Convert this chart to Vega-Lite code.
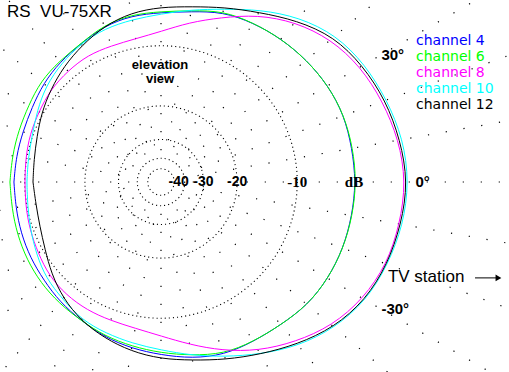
{
  "$schema": "https://vega.github.io/schema/vega-lite/v6.json",
  "width": 509,
  "height": 372,
  "autosize": {"type": "none"},
  "padding": 0,
  "background": "white",
  "config": {"view": {"stroke": null}, "axis": {"disable": true}, "legend": {"disable": true}},
  "datasets": {
    "pattern": [
      {"angle": -180, "channel 4": -8.69, "channel 6": -8.23, "channel 8": -10.03, "channel 10": -10.28, "channel 12": -11.07},
      {"angle": -170, "channel 4": -8.64, "channel 6": -8.18, "channel 8": -9.84, "channel 10": -10.09, "channel 12": -11.2},
      {"angle": -160, "channel 4": -8.46, "channel 6": -8.01, "channel 8": -9.58, "channel 10": -9.66, "channel 12": -10.94},
      {"angle": -150, "channel 4": -8.23, "channel 6": -7.79, "channel 8": -9.29, "channel 10": -9.05, "channel 12": -10.28},
      {"angle": -140, "channel 4": -8.01, "channel 6": -7.57, "channel 8": -8.81, "channel 10": -8.35, "channel 12": -9.17},
      {"angle": -130, "channel 4": -7.57, "channel 6": -7.4, "channel 8": -8.64, "channel 10": -8.01, "channel 12": -8.12},
      {"angle": -120, "channel 4": -7.24, "channel 6": -7.24, "channel 8": -8.58, "channel 10": -7.35, "channel 12": -7.24},
      {"angle": -110, "channel 4": -6.71, "channel 6": -6.82, "channel 8": -8.64, "channel 10": -7.13, "channel 12": -6.61},
      {"angle": -100, "channel 4": -6.3, "channel 6": -6.51, "channel 8": -8.52, "channel 10": -6.82, "channel 12": -6.0},
      {"angle": -90, "channel 4": -5.9, "channel 6": -6.1, "channel 8": -7.9, "channel 10": -6.4, "channel 12": -5.51},
      {"angle": -80, "channel 4": -5.31, "channel 6": -5.6, "channel 8": -6.71, "channel 10": -5.6, "channel 12": -5.12},
      {"angle": -70, "channel 4": -4.84, "channel 6": -4.94, "channel 8": -5.27, "channel 10": -4.66, "channel 12": -4.38},
      {"angle": -60, "channel 4": -4.8, "channel 6": -4.8, "channel 8": -3.85, "channel 10": -3.5, "channel 12": -3.5},
      {"angle": -50, "channel 4": -4.61, "channel 6": -4.61, "channel 8": -2.66, "channel 10": -2.25, "channel 12": -2.41},
      {"angle": -40, "channel 4": -4.16, "channel 6": -4.16, "channel 8": -1.5, "channel 10": -1.24, "channel 12": -1.31},
      {"angle": -30, "channel 4": -4.02, "channel 6": -4.02, "channel 8": -0.75, "channel 10": -0.5, "channel 12": -0.57},
      {"angle": -20, "channel 4": -3.93, "channel 6": -3.93, "channel 8": -0.25, "channel 10": -0.17, "channel 12": -0.21},
      {"angle": -10, "channel 4": -3.93, "channel 6": -3.89, "channel 8": -0.1, "channel 10": 0.14, "channel 12": 0.0},
      {"angle": 0, "channel 4": -3.85, "channel 6": -3.81, "channel 8": 0.07, "channel 10": 0.28, "channel 12": 0.21},
      {"angle": 10, "channel 4": -3.93, "channel 6": -3.85, "channel 8": -0.17, "channel 10": 0.14, "channel 12": -0.07},
      {"angle": 20, "channel 4": -3.85, "channel 6": -3.85, "channel 8": -0.57, "channel 10": -0.25, "channel 12": -0.35},
      {"angle": 30, "channel 4": -4.02, "channel 6": -4.02, "channel 8": -0.97, "channel 10": -0.61, "channel 12": -0.79},
      {"angle": 40, "channel 4": -4.29, "channel 6": -4.29, "channel 8": -1.62, "channel 10": -1.12, "channel 12": -1.31},
      {"angle": 50, "channel 4": -4.56, "channel 6": -4.56, "channel 8": -2.66, "channel 10": -2.17, "channel 12": -2.49},
      {"angle": 60, "channel 4": -4.84, "channel 6": -4.84, "channel 8": -4.02, "channel 10": -3.5, "channel 12": -3.76},
      {"angle": 70, "channel 4": -5.12, "channel 6": -5.03, "channel 8": -5.7, "channel 10": -4.84, "channel 12": -4.66},
      {"angle": 80, "channel 4": -5.9, "channel 6": -5.8, "channel 8": -7.03, "channel 10": -5.7, "channel 12": -5.41},
      {"angle": 90, "channel 4": -6.25, "channel 6": -6.15, "channel 8": -8.29, "channel 10": -6.4, "channel 12": -5.7},
      {"angle": 100, "channel 4": -6.3, "channel 6": -6.2, "channel 8": -8.87, "channel 10": -6.71, "channel 12": -6.0},
      {"angle": 110, "channel 4": -6.61, "channel 6": -6.51, "channel 8": -8.93, "channel 10": -6.87, "channel 12": -6.61},
      {"angle": 120, "channel 4": -7.24, "channel 6": -7.24, "channel 8": -8.75, "channel 10": -7.24, "channel 12": -7.46},
      {"angle": 130, "channel 4": -7.57, "channel 6": -7.46, "channel 8": -8.93, "channel 10": -7.79, "channel 12": -8.23},
      {"angle": 140, "channel 4": -7.95, "channel 6": -7.57, "channel 8": -9.05, "channel 10": -8.35, "channel 12": -9.05},
      {"angle": 150, "channel 4": -8.46, "channel 6": -8.01, "channel 8": -9.41, "channel 10": -9.17, "channel 12": -9.78},
      {"angle": 160, "channel 4": -8.69, "channel 6": -8.18, "channel 8": -9.59, "channel 10": -9.9, "channel 12": -10.54},
      {"angle": 170, "channel 4": -8.69, "channel 6": -8.23, "channel 8": -9.84, "channel 10": -10.16, "channel 12": -10.94},
      {"angle": 180, "channel 4": -8.69, "channel 6": -8.23, "channel 8": -10.03, "channel 10": -10.28, "channel 12": -11.07}
    ],
    "rays": [
      {"angle": 0}, {"angle": 10}, {"angle": 20}, {"angle": 30}, {"angle": 40}, {"angle": 50},
      {"angle": 60}, {"angle": 70}, {"angle": 80}, {"angle": 90}, {"angle": 100}, {"angle": 110},
      {"angle": 120}, {"angle": 130}, {"angle": 140}, {"angle": 150}, {"angle": 160}, {"angle": 170},
      {"angle": 180}, {"angle": 190}, {"angle": 200}, {"angle": 210}, {"angle": 220}, {"angle": 230},
      {"angle": 240}, {"angle": 250}, {"angle": 260}, {"angle": 270}, {"angle": 280}, {"angle": 290},
      {"angle": 300}, {"angle": 310}, {"angle": 320}, {"angle": 330}, {"angle": 340}, {"angle": 350}
    ],
    "rings": [
      {"dB": -50, "label": ""},
      {"dB": -40, "label": "-40"},
      {"dB": -30, "label": "-30"},
      {"dB": -20, "label": "-20"},
      {"dB": -10, "label": "-10"}
    ],
    "angles": [
      {"angle": 30, "label": "30°"},
      {"angle": 0, "label": "0°"},
      {"angle": -30, "label": "-30°"}
    ]
  },
  "layer": [
    {
      "layer": [
        {
          "data": {"name": "rays"},
          "transform": [
            {"calculate": "0.13 + ((datum.angle/10) % 3) * 0.022", "as": "r0"},
            {"calculate": "datum.r0*cos(datum.angle*PI/180)", "as": "x1"},
            {"calculate": "datum.r0*sin(datum.angle*PI/180)", "as": "y1"},
            {"calculate": "1.8*cos(datum.angle*PI/180)", "as": "x2"},
            {"calculate": "1.8*sin(datum.angle*PI/180)", "as": "y2"}
          ],
          "mark": {"type": "rule", "color": "black", "strokeWidth": 1.2, "strokeDash": [1.2, 16.8], "clip": true},
          "encoding": {
            "x": {"field": "x1", "type": "quantitative", "scale": {"domain": [-0.65984, 1.42623], "nice": false, "zero": false}, "axis": null},
            "y": {"field": "y1", "type": "quantitative", "scale": {"domain": [-0.77869, 0.7459], "nice": false, "zero": false}, "axis": null},
            "x2": {"field": "x2"},
            "y2": {"field": "y2"}
          }
        },
        {
          "data": {"name": "rings"},
          "transform": [{"calculate": "exp(datum.dB/17.162)", "as": "rr"}],
          "mark": {"type": "point", "shape": "circle", "filled": false, "color": "black", "opacity": 1, "strokeWidth": 1.1, "strokeDash": [1.1, 3]},
          "encoding": {
            "x": {"datum": 0, "type": "quantitative", "scale": {"domain": [-0.65984, 1.42623], "nice": false, "zero": false}, "axis": null},
            "y": {"datum": 0, "type": "quantitative", "scale": {"domain": [-0.77869, 0.7459], "nice": false, "zero": false}, "axis": null},
            "size": {"field": "rr", "type": "quantitative", "scale": {"type": "pow", "exponent": 2, "domain": [0, 1], "range": [0, 238144]}, "legend": null}
          }
        },
        {
          "data": {"name": "pattern"},
          "transform": [
            {"fold": ["channel 4", "channel 6", "channel 8", "channel 10", "channel 12"], "as": ["channel", "dB"]},
            {"calculate": "exp(datum.dB/17.162)", "as": "rr"},
            {"calculate": "datum.rr*cos(datum.angle*PI/180)", "as": "px"},
            {"calculate": "datum.rr*sin(datum.angle*PI/180)", "as": "py"}
          ],
          "mark": {"type": "line", "strokeWidth": 1, "interpolate": "basis", "clip": true},
          "encoding": {
            "x": {"field": "px", "type": "quantitative", "scale": {"domain": [-0.65984, 1.42623], "nice": false, "zero": false}, "axis": null},
            "y": {"field": "py", "type": "quantitative", "scale": {"domain": [-0.77869, 0.7459], "nice": false, "zero": false}, "axis": null},
            "color": {"field": "channel", "type": "nominal", "scale": {"domain": ["channel 4", "channel 6", "channel 8", "channel 10", "channel 12"], "range": ["#0000ff", "#00ff00", "#ff00ff", "#00ffff", "#000000"]}, "legend": null},
            "order": {"field": "angle", "type": "quantitative"}
          }
        },
        {
          "data": {"name": "rings"},
          "transform": [{"filter": "datum.dB == -30 || datum.dB == -20"}, {"calculate": "exp(datum.dB/17.162)", "as": "rr"}],
          "mark": {"type": "text", "font": "Liberation Sans", "fontSize": 14, "fontWeight": "bold", "align": "center", "baseline": "middle", "color": "black"},
          "encoding": {
            "x": {"field": "rr", "type": "quantitative", "scale": {"domain": [-0.65984, 1.42623], "nice": false, "zero": false}, "axis": null},
            "y": {"datum": 0, "type": "quantitative", "scale": {"domain": [-0.77869, 0.7459], "nice": false, "zero": false}, "axis": null},
            "text": {"field": "label"}
          }
        },
        {
          "data": {"name": "rings"},
          "transform": [{"filter": "datum.dB == -40"}, {"calculate": "exp(datum.dB/17.162)", "as": "rr"}],
          "mark": {"type": "text", "font": "Liberation Sans", "fontSize": 14, "fontWeight": "bold", "align": "center", "baseline": "middle", "color": "black", "dx": -6},
          "encoding": {
            "x": {"field": "rr", "type": "quantitative", "scale": {"domain": [-0.65984, 1.42623], "nice": false, "zero": false}, "axis": null},
            "y": {"datum": 0, "type": "quantitative", "scale": {"domain": [-0.77869, 0.7459], "nice": false, "zero": false}, "axis": null},
            "text": {"field": "label"}
          }
        },
        {
          "data": {"name": "rings"},
          "transform": [{"filter": "datum.dB == -10"}, {"calculate": "exp(datum.dB/17.162)", "as": "rr"}],
          "mark": {"type": "text", "font": "Liberation Serif", "fontSize": 15, "fontWeight": "bold", "align": "center", "baseline": "middle", "color": "black"},
          "encoding": {
            "x": {"field": "rr", "type": "quantitative", "scale": {"domain": [-0.65984, 1.42623], "nice": false, "zero": false}, "axis": null},
            "y": {"datum": 0, "type": "quantitative", "scale": {"domain": [-0.77869, 0.7459], "nice": false, "zero": false}, "axis": null},
            "text": {"field": "label"}
          }
        },
        {
          "data": {"values": [{}]},
          "mark": {"type": "text", "text": "dB", "font": "Liberation Serif", "fontSize": 15, "fontWeight": "bold", "align": "center", "baseline": "middle", "color": "black"},
          "encoding": {
            "x": {"datum": 0.791, "type": "quantitative", "scale": {"domain": [-0.65984, 1.42623], "nice": false, "zero": false}, "axis": null},
            "y": {"datum": 0, "type": "quantitative", "scale": {"domain": [-0.77869, 0.7459], "nice": false, "zero": false}, "axis": null}
          }
        },
        {
          "data": {"name": "angles"},
          "transform": [
            {"calculate": "1.043*cos(datum.angle*PI/180)", "as": "px"},
            {"calculate": "1.043*sin(datum.angle*PI/180)", "as": "py"}
          ],
          "mark": {"type": "text", "font": "Liberation Sans", "fontSize": 15, "fontWeight": "bold", "align": "left", "baseline": "middle", "color": "black"},
          "encoding": {
            "x": {"field": "px", "type": "quantitative", "scale": {"domain": [-0.65984, 1.42623], "nice": false, "zero": false}, "axis": null},
            "y": {"field": "py", "type": "quantitative", "scale": {"domain": [-0.77869, 0.7459], "nice": false, "zero": false}, "axis": null},
            "text": {"field": "label"}
          }
        },
        {
          "data": {"values": [{}]},
          "mark": {"type": "text", "text": "RS\u00a0 VU-75XR", "font": "Liberation Sans", "fontSize": 17, "align": "left", "baseline": "alphabetic", "color": "black"},
          "encoding": {
            "x": {"datum": -0.631, "type": "quantitative", "scale": {"domain": [-0.65984, 1.42623], "nice": false, "zero": false}, "axis": null},
            "y": {"datum": 0.676, "type": "quantitative", "scale": {"domain": [-0.77869, 0.7459], "nice": false, "zero": false}, "axis": null}
          }
        },
        {
          "data": {"values": [{}]},
          "mark": {"type": "text", "text": "elevation", "font": "Liberation Sans", "fontSize": 13, "fontWeight": "bold", "align": "center", "baseline": "alphabetic", "color": "black"},
          "encoding": {
            "x": {"datum": -0.004, "type": "quantitative", "scale": {"domain": [-0.65984, 1.42623], "nice": false, "zero": false}, "axis": null},
            "y": {"datum": 0.463, "type": "quantitative", "scale": {"domain": [-0.77869, 0.7459], "nice": false, "zero": false}, "axis": null}
          }
        },
        {
          "data": {"values": [{}]},
          "mark": {"type": "text", "text": "view", "font": "Liberation Sans", "fontSize": 13, "fontWeight": "bold", "align": "center", "baseline": "alphabetic", "color": "black"},
          "encoding": {
            "x": {"datum": -0.004, "type": "quantitative", "scale": {"domain": [-0.65984, 1.42623], "nice": false, "zero": false}, "axis": null},
            "y": {"datum": 0.406, "type": "quantitative", "scale": {"domain": [-0.77869, 0.7459], "nice": false, "zero": false}, "axis": null}
          }
        },
        {
          "data": {"values": [{}]},
          "mark": {"type": "text", "text": "TV station", "font": "Liberation Sans", "fontSize": 17, "align": "left", "baseline": "alphabetic", "color": "black"},
          "encoding": {
            "x": {"datum": 0.93, "type": "quantitative", "scale": {"domain": [-0.65984, 1.42623], "nice": false, "zero": false}, "axis": null},
            "y": {"datum": -0.41, "type": "quantitative", "scale": {"domain": [-0.77869, 0.7459], "nice": false, "zero": false}, "axis": null}
          }
        },
        {
          "data": {"values": [{}]},
          "mark": {"type": "rule", "color": "black", "strokeWidth": 1},
          "encoding": {
            "x": {"datum": 1.287, "type": "quantitative", "scale": {"domain": [-0.65984, 1.42623], "nice": false, "zero": false}, "axis": null},
            "x2": {"datum": 1.381},
            "y": {"datum": -0.393, "type": "quantitative", "scale": {"domain": [-0.77869, 0.7459], "nice": false, "zero": false}, "axis": null}
          }
        },
        {
          "data": {"values": [{}]},
          "mark": {"type": "point", "shape": "triangle-right", "filled": true, "color": "black", "opacity": 1, "size": 45},
          "encoding": {
            "x": {"datum": 1.383, "type": "quantitative", "scale": {"domain": [-0.65984, 1.42623], "nice": false, "zero": false}, "axis": null},
            "y": {"datum": -0.393, "type": "quantitative", "scale": {"domain": [-0.77869, 0.7459], "nice": false, "zero": false}, "axis": null}
          }
        }
      ]
    },
    {
      "data": {"values": [{"channel": "channel 4"}, {"channel": "channel 6"}, {"channel": "channel 8"}, {"channel": "channel 10"}, {"channel": "channel 12"}]},
      "mark": {"type": "text", "font": "DejaVu Sans", "fontSize": 14, "align": "left", "baseline": "alphabetic"},
      "encoding": {
        "x": {"datum": 1.045, "type": "quantitative", "scale": {"domain": [-0.65984, 1.42623], "nice": false, "zero": false}, "axis": null},
        "y": {"field": "channel", "type": "ordinal", "scale": {"type": "point", "domain": ["channel 4", "channel 6", "channel 8", "channel 10", "channel 12"], "range": [45, 109], "padding": 0}, "axis": null},
        "color": {"field": "channel", "type": "nominal", "scale": {"domain": ["channel 4", "channel 6", "channel 8", "channel 10", "channel 12"], "range": ["#0000ff", "#00ff00", "#ff00ff", "#00ffff", "#000000"]}, "legend": null},
        "text": {"field": "channel"}
      }
    }
  ],
  "resolve": {"scale": {"y": "independent"}}
}
